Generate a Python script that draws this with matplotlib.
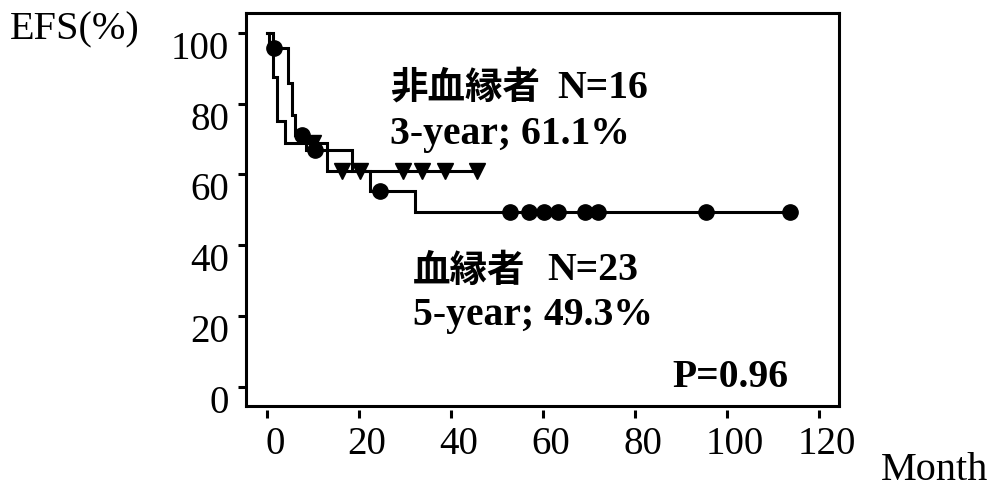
import matplotlib
matplotlib.use('Agg')
import matplotlib.pyplot as plt
import matplotlib.transforms as mtransforms
import numpy as np

# Kaplan-Meier curves (months, EFS %)
rel_times = [0, 0.5, 4.6, 5.4, 6.1, 8.5, 18.4, 22.4, 32.2]
rel_surv = [100, 95.65, 85.8, 76.8, 71.2, 66.9, 61.1, 55.2, 49.3]
rel_end = 113.7
rel_cens_t = [1.4, 7.5, 10.3, 24.6, 52.8, 57.0, 60.1, 63.3, 69.1, 72.0, 95.4, 113.7]

non_times = [0, 1.2, 2.1, 3.9, 13.0]
non_surv = [100, 87.5, 75.0, 68.75, 61.1]
non_end = 45.6
non_cens_t = [10.0, 16.2, 20.2, 29.6, 33.6, 38.7, 45.6]

x_ticks = [0, 20, 40, 60, 80, 100, 120]
y_ticks = [0, 20, 40, 60, 80, 100]

SERIF = ['Liberation Serif', 'DejaVu Serif']
JP = ['Noto Sans CJK JP', 'DejaVu Sans']
LW = 2.2


def step_value(times, surv, t):
    idx = np.searchsorted(times, t, side='right') - 1
    return surv[idx]


fig = plt.figure(figsize=(9.93, 4.97), dpi=100)
ax = fig.add_axes([246 / 993, 1 - 406 / 497, (839 - 246) / 993, (406 - 13) / 497])

for times, surv, end, cens, marker, ms in [
        (rel_times, rel_surv, rel_end, rel_cens_t, 'o', 11),
        (non_times, non_surv, non_end, non_cens_t, 'v', 11)]:
    xs = list(times) + [end]
    ys = list(surv) + [surv[-1]]
    ax.step(xs, ys, where='post', color='black', linewidth=LW, solid_joinstyle='miter', zorder=2)
    cy = [step_value(times, surv, t) for t in cens]
    ax.plot(cens, cy, linestyle='none', marker=marker, markersize=ms,
            color='black', zorder=3)

ax.set_xlim(-4.6, 124.3)
ax.set_ylim(-5.4, 105.6)
for s in ax.spines.values():
    s.set_linewidth(LW)

ax.set_yticks(y_ticks)
ax.set_yticklabels([str(v) for v in y_ticks], fontsize=28, family=SERIF)
ax.tick_params(axis='y', direction='out', length=6, width=LW, pad=6)
ax.tick_params(axis='x', bottom=False, labelbottom=False)

# x ticks sit a little below the box
sec = ax.secondary_xaxis(-0.009)
sec.spines['bottom'].set_visible(False)
sec.set_xticks(x_ticks)
sec.set_xticklabels([str(v) for v in x_ticks], fontsize=28, family=SERIF)
sec.tick_params(axis='x', direction='out', length=6, width=LW, pad=6)

down = mtransforms.ScaledTranslation(0, -12 / 100, fig.dpi_scale_trans)
for lbl in ax.get_yticklabels():
    lbl.set_transform(lbl.get_transform() + down)
right = mtransforms.ScaledTranslation(8 / 100, 0, fig.dpi_scale_trans)
for lbl in sec.get_xticklabels():
    lbl.set_transform(lbl.get_transform() + right)

# group labels: Japanese in gothic, numbers in bold serif
ax.text(26.7, 84.6, '非血縁者', fontsize=27, fontweight='bold', family=JP,
        ha='left', va='center')
ax.text(63.0, 81.6, 'N=16', fontsize=28.5, fontweight='bold', family=SERIF,
        ha='left', va='baseline')
ax.text(26.7, 68.5, '3-year; 61.1%', fontsize=28.5, fontweight='bold', family=SERIF,
        ha='left', va='baseline')
ax.text(31.7, 33.0, '血縁者', fontsize=27, fontweight='bold', family=JP,
        ha='left', va='center')
ax.text(60.8, 30.2, 'N=23', fontsize=28.5, fontweight='bold', family=SERIF,
        ha='left', va='baseline')
ax.text(31.7, 17.5, '5-year; 49.3%', fontsize=28.5, fontweight='bold', family=SERIF,
        ha='left', va='baseline')
ax.text(113.3, 0.0, 'P=0.96', fontsize=28.5, fontweight='bold', family=SERIF,
        ha='right', va='baseline')

fig.text(10 / 993, 1 - 30 / 497, 'EFS(%)', fontsize=29, family=SERIF, ha='left', va='center')
fig.text(935 / 993, 1 - 471 / 497, 'Month', fontsize=29, family=SERIF, ha='center', va='center')

fig.savefig('out.png', dpi=100)
